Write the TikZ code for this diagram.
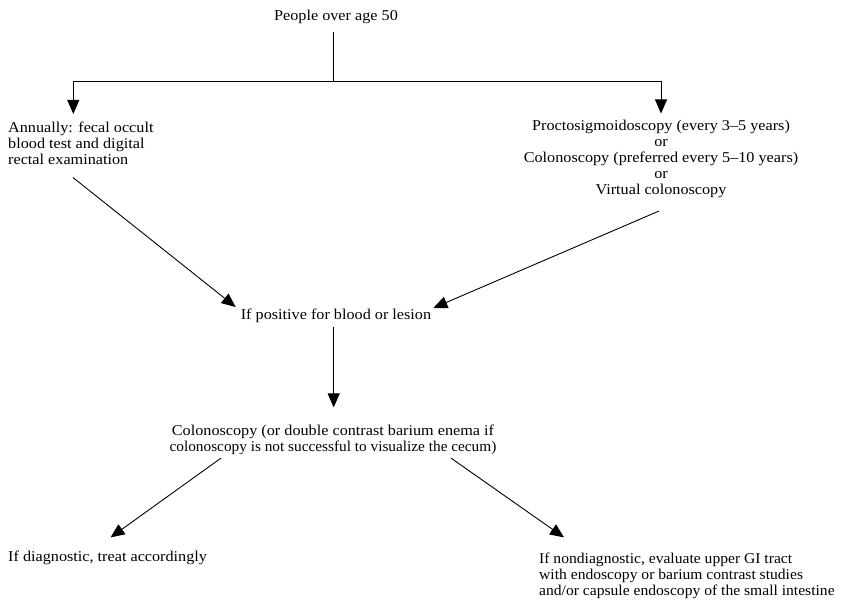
\documentclass[tikz,border=0pt]{standalone}
\usepackage{fontspec}
\setmainfont[FakeStretch=1.08]{Liberation Serif}
\newfontfamily\serifmid[FakeStretch=1.04]{Liberation Serif}
\newfontfamily\serifnarrow[FakeStretch=1.02]{Liberation Serif}
\usetikzlibrary{arrows.meta,calc}
\begin{document}
\begin{tikzpicture}[x=1bp,y=-1bp,
  txt/.style={inner sep=0pt,font=\fontsize{15bp}{16bp}\selectfont},
  link/.style={line width=0.9bp},
  arr/.style={link,-{Triangle[length=14bp,width=12bp]}}]
\useasboundingbox (0,0) rectangle (842,606);

% text blocks
\node[txt] (top) at (336,16.5) {People over age 50};
\node[txt,anchor=west,align=left] (annual) at (8,143.5)
  {Annually: fecal occult\\blood test and digital\\rectal examination};
\node[txt,align=center] (scope) at (661,158.5)
  {Proctosigmoidoscopy (every 3--5 years)\\or\\Colonoscopy (preferred every 5--10 years)\\or\\Virtual colonoscopy};
\node[txt] (pos) at (336,315.5) {If positive for blood or lesion};
\node[txt,align=center] (colo) at (333,439.5)
  {Colonoscopy (or double contrast barium enema if\\{\serifnarrow colonoscopy is not successful to visualize the cecum)}};
\node[txt,anchor=west] (diag) at (8,557.5) {If diagnostic, treat accordingly};
\node[txt,anchor=west,align=left,font=\serifmid\fontsize{15bp}{16bp}\selectfont] (nondiag) at (539,575.5)
  {If nondiagnostic, evaluate upper GI tract\\with endoscopy or barium contrast studies\\and/or capsule endoscopy of the small intestine};

% branching from the top
\coordinate (split) at (333.3,81);
\coordinate (lc) at (73.3,81);
\coordinate (rc) at (661,81);
\draw[link,shorten <=8bp] (top.south -| split) -- (split);
\draw[link] (lc) -- (rc);
\draw[arr,shorten >=8bp] (lc) -- (annual.north -| lc);
\draw[arr,shorten >=6bp] (rc) -- (scope.north -| rc);

% converging on the positive result
\draw[arr] ($(annual.south west)+(65,12.5)$) -- ($(pos.west)+(-5,-8.5)$);
\draw[arr] ($(scope.south)+(-2,13.5)$) -- ($(pos.east)+(2,-7.5)$);

% down to colonoscopy
\coordinate (p1) at ($(pos.south)+(-2.3,4)$);
\draw[arr,shorten >=17bp] (p1) -- (colo.north -| p1);

% outcomes
\draw[arr] ($(colo.south)+(-112,3.5)$) -- ($(diag.north west)+(102.6,-13)$);
\draw[arr] ($(colo.south)+(118,3.5)$) -- ($(nondiag.north west)+(25,-15)$);
\end{tikzpicture}
\end{document}
